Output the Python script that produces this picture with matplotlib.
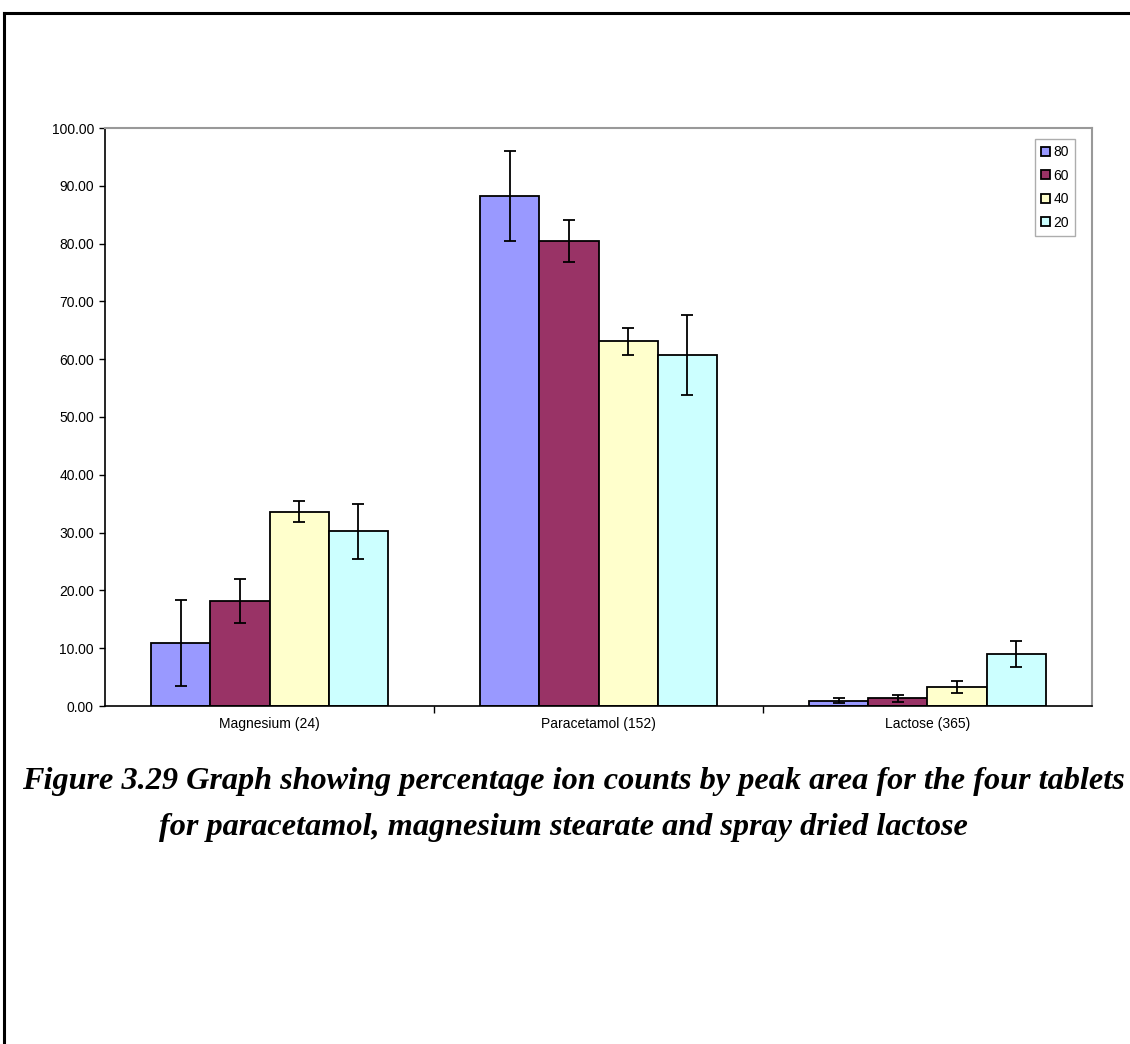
import matplotlib
matplotlib.use("Agg")
import matplotlib.pyplot as plt
import numpy as np
from matplotlib.lines import Line2D

categories = ["Magnesium (24)", "Paracetamol (152)", "Lactose (365)"]
series = ["80", "60", "40", "20"]
values = {
    "80": [10.9, 88.2, 0.9],
    "60": [18.2, 80.5, 1.3],
    "40": [33.6, 63.1, 3.3],
    "20": [30.2, 60.7, 9.0],
}
errors = {
    "80": [7.4, 7.8, 0.4],
    "60": [3.8, 3.65, 0.6],
    "40": [1.8, 2.3, 1.0],
    "20": [4.7, 6.9, 2.2],
}
colors = ["#9999FF", "#993366", "#FFFFCC", "#CCFFFF"]
yticks = np.arange(0, 101, 10)

plt.rcParams['font.family'] = ['Liberation Sans', 'DejaVu Sans']

fig = plt.figure(figsize=(11.30, 10.44), dpi=100)
W, H = 1130, 1044
ax = fig.add_axes([105 / W, 1 - 706 / H, (1092 - 105) / W, (706 - 128) / H])

x = np.arange(len(categories))
bw = 0.18
for i, s in enumerate(series):
    pos = x + (i - 1.5) * bw
    ax.bar(pos, values[s], width=bw, color=colors[i], edgecolor="black",
           linewidth=1.3, label=s, zorder=2)
    ax.errorbar(pos, values[s], yerr=errors[s], fmt="none", ecolor="black",
                elinewidth=1.3, capsize=4, capthick=1.3, zorder=3)

ax.set_xlim(-0.5, 2.5)
ax.set_ylim(0, 100)
ax.set_yticks(yticks)
ax.set_yticklabels([f"{v:.2f}" for v in yticks], fontsize=10)
ax.set_xticks(x)
ax.set_xticklabels(categories, fontsize=10)
ax.tick_params(axis="x", length=0, pad=8)
ax.tick_params(axis="y", length=4, width=1, pad=4, direction="out")
# category boundary ticks
ax.set_xticks([0.5, 1.5], minor=True)
ax.tick_params(axis="x", which="minor", length=5, width=1, direction="out")

for side in ["top", "right"]:
    ax.spines[side].set_color("#999999")
    ax.spines[side].set_linewidth(1.5)
for side in ["left", "bottom"]:
    ax.spines[side].set_color("black")
    ax.spines[side].set_linewidth(1.2)

leg = ax.legend(loc="upper right", bbox_to_anchor=(1075 / W, 1 - 139 / H),
                bbox_transform=fig.transFigure, fontsize=10, frameon=True,
                fancybox=False, edgecolor="#999999", handlelength=0.65,
                handleheight=0.65, handletextpad=0.2, borderpad=0.45,
                labelspacing=0.68, borderaxespad=0)
leg.get_frame().set_linewidth(1.0)

cap_kw = dict(ha="center", va="center", fontsize=23.2, fontweight="bold",
              fontstyle="italic", family=["Liberation Serif", "DejaVu Serif"])
fig.text(573 / W, 1 - 781 / H,
         "Figure 3.29 Graph showing percentage ion counts by peak area for the four tablets",
         **cap_kw)
fig.text(563 / W, 1 - 828 / H,
         "for paracetamol, magnesium stearate and spray dried lactose", **cap_kw)

# page frame
fig.add_artist(Line2D([4 / W, 1.0], [1 - 13 / H, 1 - 13 / H], transform=fig.transFigure,
                      color="black", linewidth=2.2))
fig.add_artist(Line2D([4 / W, 4 / W], [0, 1 - 13 / H], transform=fig.transFigure,
                      color="black", linewidth=2.2))

fig.savefig("out.png", dpi=100)
